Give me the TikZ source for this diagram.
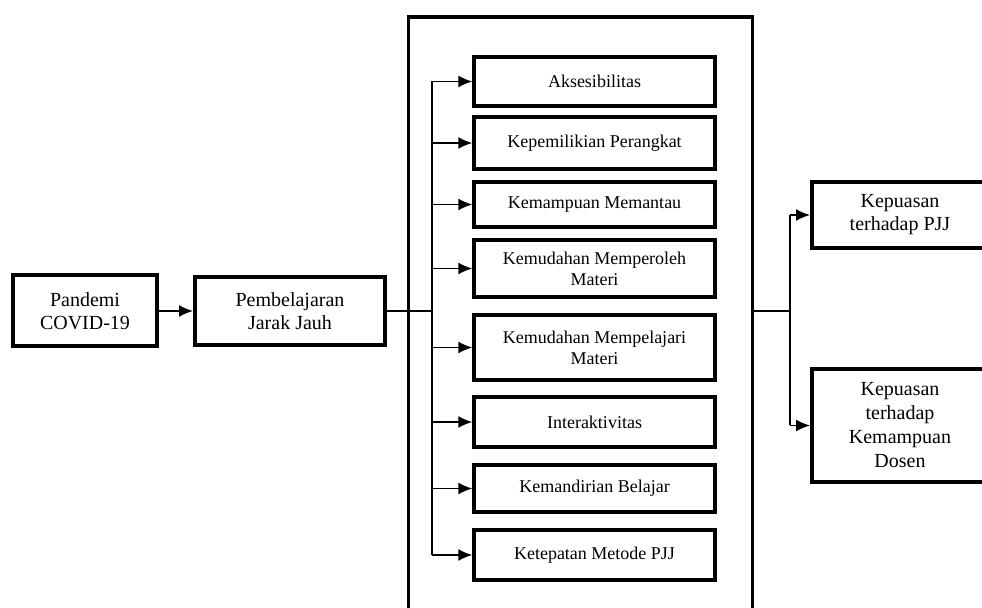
\documentclass[tikz,border=0pt]{standalone}
\usepackage{fontspec}
\setmainfont{Liberation Serif}
\usetikzlibrary{arrows.meta}

\begin{document}
\begin{tikzpicture}[x=0.5pt, y=-0.5pt, >={Latex[length=7pt, width=6pt]},
    outbox/.style={draw, line width=2pt, align=center, inner sep=2pt,
        font=\fontsize{10}{11.5}\selectfont},
    inbox/.style={draw, line width=1.7pt, align=center, inner sep=2pt,
        minimum width=120.5pt, font=\fontsize{9}{10.5}\selectfont},
    link/.style={line width=0.8pt}]
        \useasboundingbox (0,0) rectangle (982,608);
        \clip (0,0) rectangle (982,608);

        % left part
        \node [outbox, minimum width=72pt, minimum height=35.5pt] (pandemi) at (85,311) {Pandemi\\COVID-19};
        \node [outbox, minimum width=95pt, minimum height=34pt] (pjj) at (290,311) {Pembelajaran\\Jarak Jauh};

        % frame with the factors
        \node [draw, line width=1.6pt, minimum width=172pt, minimum height=310pt] (frame) at (580.5,327) {};
        \node [inbox, minimum height=24.5pt] (k1) at (594.5,81.5) {Aksesibilitas};
        \node [inbox, minimum height=26pt] (k2) at (594.5,143) {Kepemilikian Perangkat};
        \node [inbox, minimum height=22.5pt] (k3) at (594.5,204.5) {Kemampuan Memantau};
        \node [inbox, minimum height=28.5pt] (k4) at (594.5,268.5) {Kemudahan Memperoleh\\Materi};
        \node [inbox, minimum height=32.5pt] (k5) at (594.5,347.5) {Kemudahan Mempelajari\\Materi};
        \node [inbox, minimum height=25pt] (k6) at (594.5,422) {Interaktivitas};
        \node [inbox, minimum height=23.5pt] (k7) at (594.5,488.5) {Kemandirian Belajar};
        \node [inbox, minimum height=25pt] (k8) at (594.5,555) {Ketepatan Metode PJJ};

        % right part
        \node [outbox, minimum width=88pt, minimum height=33pt] (kp1) at (900,215) {Kepuasan\\terhadap PJJ};
        \node [outbox, minimum width=88pt, minimum height=56.5pt, font=\fontsize{10}{12}\selectfont] (kp2) at (900,425.5) {Kepuasan\\terhadap\\Kemampuan\\Dosen};

        \coordinate (lbus) at (432,311);
        \coordinate (rbus) at (790,311);

        \draw [link, ->] (pandemi) -- (pjj);
        \draw [link] (pjj.east) -- (lbus);
        \draw [link] (lbus |- k1.west) -- (lbus |- k8.west);
        \foreach \k in {k1,k2,k3,k4,k5,k6,k7,k8}
            \draw [link, ->] (lbus |- \k.west) -- (\k.west);

        \draw [link] (frame.east |- rbus) -- (rbus);
        \draw [link] (rbus |- kp1.west) -- (rbus |- kp2.west);
        \draw [link, ->] (rbus |- kp1.west) -- (kp1.west);
        \draw [link, ->] (rbus |- kp2.west) -- (kp2.west);
\end{tikzpicture}
\end{document}
